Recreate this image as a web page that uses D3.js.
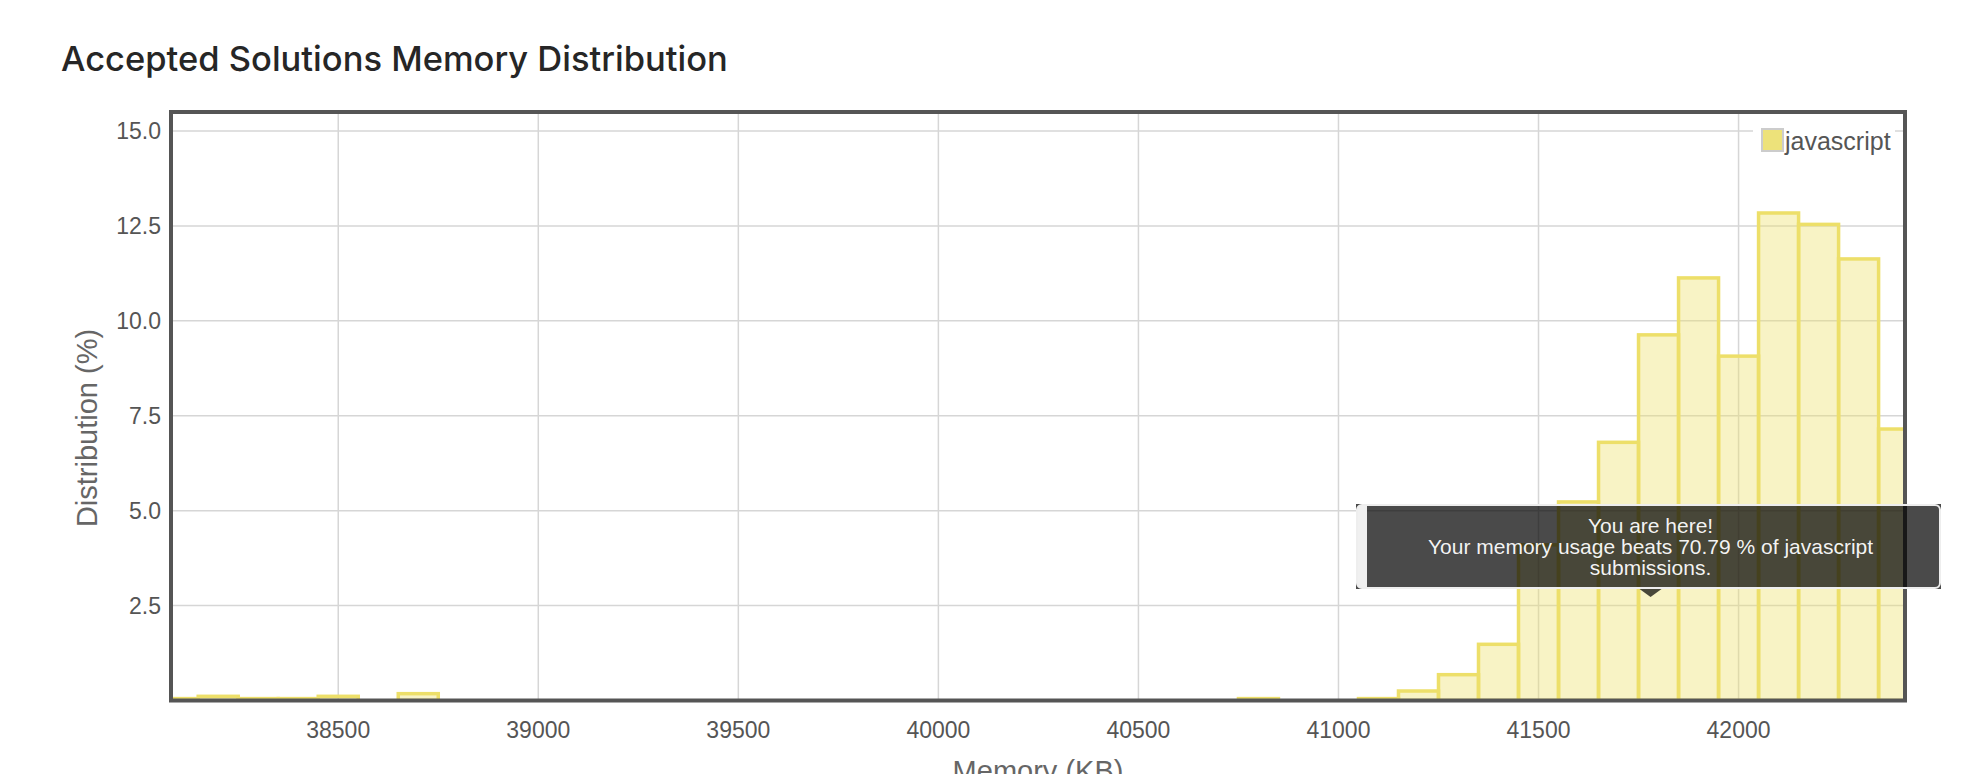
<!DOCTYPE html>
<html>
<head>
<meta charset="utf-8">
<script src="https://cdn.jsdelivr.net/npm/d3@7/dist/d3.min.js"></script>
<style>
  html, body { margin: 0; padding: 0; background: #ffffff; }
  svg { display: block; }
</style>
</head>
<body>
<svg id="chart" width="1972" height="774"></svg>
<script>
// ---- data ----
const chartTitle = "Accepted Solutions Memory Distribution";
const seriesName = "javascript";
const xAxisTitle = "Memory (KB)";
const yAxisTitle = "Distribution (%)";
const binWidth = 100; // KB per histogram bin
const memoryKB = [38100, 38200, 38300, 38400, 38500, 38700, 40800, 41100, 41200, 41300,
                  41400, 41500, 41600, 41700, 41800, 41900, 42000, 42100, 42200, 42300, 42400];
const distribution = [0.05, 0.11, 0.05, 0.05, 0.11, 0.18, 0.05, 0.05, 0.25, 0.68,
                      1.48, 4.10, 5.23, 6.80, 9.63, 11.13, 9.07, 12.84, 12.54, 11.63, 7.15];
const xTicks = [38500, 39000, 39500, 40000, 40500, 41000, 41500, 42000];
const yTicks = [2.5, 5.0, 7.5, 10.0, 12.5, 15.0];
const xDomain = [38082, 42416];
const yDomain = [0, 15.5];
const tooltipLines = ["You are here!", "Your memory usage beats 70.79 % of javascript", "submissions."];
const tooltipAtKB = 41800;

// ---- layout ----
const svg = d3.select("#chart");
const plot = { left: 171, right: 1905, top: 112, bottom: 700.5 };
const x = d3.scaleLinear().domain(xDomain).range([plot.left, plot.right]);
const y = d3.scaleLinear().domain(yDomain).range([plot.bottom, plot.top]);
const fontUI = "'Liberation Sans', 'Helvetica Neue', Helvetica, Arial, sans-serif";

svg.append("defs").append("clipPath").attr("id", "plotClip")
  .append("rect").attr("x", plot.left).attr("y", plot.top)
  .attr("width", plot.right - plot.left).attr("height", plot.bottom - plot.top);

// title
svg.append("text").attr("x", 61).attr("y", 71)
  .attr("font-family", "Inter, 'Noto Sans', sans-serif").attr("font-weight", 500)
  .attr("font-size", 34.5).attr("fill", "#262626").text(chartTitle);

// grid
const grid = svg.append("g").attr("clip-path", "url(#plotClip)");
grid.selectAll(".vg").data(xTicks).join("line")
  .attr("x1", d => x(d)).attr("x2", d => x(d))
  .attr("y1", plot.top).attr("y2", plot.bottom)
  .attr("stroke", "#d6d6d6").attr("stroke-width", 1.5);
grid.selectAll(".hg").data(yTicks).join("line")
  .attr("x1", plot.left).attr("x2", plot.right)
  .attr("y1", d => y(d)).attr("y2", d => y(d))
  .attr("stroke", "#d6d6d6").attr("stroke-width", 1.5);

// bars
const barColor = "rgb(237,223,105)";
const bars = svg.append("g").attr("clip-path", "url(#plotClip)");
bars.selectAll("rect").data(memoryKB).join("rect")
  .attr("x", d => x(d - binWidth / 2))
  .attr("width", d => x(d + binWidth / 2) - x(d - binWidth / 2))
  .attr("y", (d, i) => y(distribution[i]))
  .attr("height", (d, i) => y(0) - y(distribution[i]))
  .attr("fill", "rgba(238,224,110,0.4)")
  .attr("stroke", barColor).attr("stroke-width", 3.5);

// axes tick labels
svg.append("g").selectAll("text").data(yTicks).join("text")
  .attr("x", 161).attr("y", d => y(d)).attr("dy", "0.36em")
  .attr("text-anchor", "end").attr("font-family", fontUI).attr("font-size", 23)
  .attr("fill", "#555").text(d => d3.format(".1f")(d));
svg.append("g").selectAll("text").data(xTicks).join("text")
  .attr("x", d => x(d)).attr("y", 738)
  .attr("text-anchor", "middle").attr("font-family", fontUI).attr("font-size", 23)
  .attr("fill", "#555").text(d => d);

// axis titles
svg.append("text").attr("transform", "translate(97,428) rotate(-90)")
  .attr("text-anchor", "middle").attr("font-family", fontUI).attr("font-size", 29)
  .attr("fill", "#666").text(yAxisTitle);
svg.append("text").attr("x", (plot.left + plot.right) / 2).attr("y", 781)
  .attr("text-anchor", "middle").attr("font-family", fontUI).attr("font-size", 29)
  .attr("fill", "#666").text(xAxisTitle);

// plot border
svg.append("rect").attr("x", plot.left).attr("y", plot.top)
  .attr("width", plot.right - plot.left).attr("height", plot.bottom - plot.top)
  .attr("fill", "none").attr("stroke", "#555").attr("stroke-width", 4);

// legend
const lg = svg.append("g");
lg.append("rect").attr("x", 1753).attr("y", 125).attr("width", 142).attr("height", 30).attr("fill", "#fff");
lg.append("rect").attr("x", 1762).attr("y", 129).attr("width", 21).attr("height", 22)
  .attr("fill", "#ede27a").attr("stroke", "#cccccc").attr("stroke-width", 2);
lg.append("text").attr("x", 1785).attr("y", 150).attr("font-family", fontUI)
  .attr("font-size", 25).attr("fill", "#555").text(seriesName);

// tooltip
const tx = x(tooltipAtKB) - 8;
const tt = svg.append("g");
const box = { x0: 1356, x1: 1941, y0: 504, y1: 589 };
tt.append("rect").attr("x", box.x0).attr("y", box.y0)
  .attr("width", box.x1 - box.x0).attr("height", box.y1 - box.y0)
  .attr("fill", "rgba(0,0,0,0.71)");
tt.append("path")
  .attr("d", `M${tx - 11},${box.y1} L${tx + 11},${box.y1} L${tx},${box.y1 + 8} Z`)
  .attr("fill", "rgba(0,0,0,0.71)");
tt.append("rect").attr("x", box.x0 + 1).attr("y", box.y0 + 1)
  .attr("width", 10).attr("height", box.y1 - box.y0 - 2)
  .attr("rx", 4).attr("fill", "#f0f0f0");
tt.append("rect").attr("x", box.x0 + 6).attr("y", box.y0 + 1)
  .attr("width", 5).attr("height", box.y1 - box.y0 - 2).attr("fill", "#f0f0f0");
tt.append("rect").attr("x", box.x0 + 1).attr("y", box.y0 + 1)
  .attr("width", box.x1 - box.x0 - 2).attr("height", box.y1 - box.y0 - 2)
  .attr("rx", 5).attr("fill", "none").attr("stroke", "#eeeeee").attr("stroke-width", 2);
tt.selectAll(".tl").data(tooltipLines).join("text")
  .attr("x", tx).attr("y", (d, i) => 533 + i * 21)
  .attr("text-anchor", "middle").attr("font-family", fontUI).attr("font-size", 21)
  .attr("fill", "#fff").attr("fill-opacity", 0.95).text(d => d);
</script>
</body>
</html>
